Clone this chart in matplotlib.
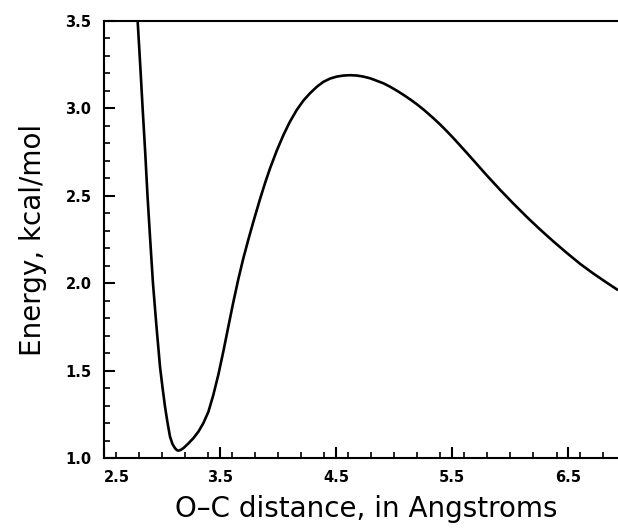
import numpy as np
import matplotlib.pyplot as plt
from matplotlib.ticker import MultipleLocator, FixedLocator

# O-C distance (Angstroms) and energy (kcal/mol)
distance = [2.775, 2.790, 2.812, 2.833, 2.855, 2.875, 2.898, 2.922, 2.950, 2.983,
            3.005, 3.026, 3.048, 3.069, 3.090, 3.112, 3.128, 3.141, 3.160, 3.184,
            3.225, 3.270, 3.315, 3.356, 3.400, 3.442, 3.486, 3.529, 3.572, 3.615,
            3.658, 3.700, 3.745, 3.787, 3.845, 3.890, 3.931, 3.990, 4.046, 4.100,
            4.161, 4.220, 4.276, 4.335, 4.391, 4.450, 4.506, 4.565, 4.621, 4.680,
            4.735, 4.795, 4.851, 4.910, 4.966, 5.025, 5.080, 5.140, 5.196, 5.260,
            5.339, 5.400, 5.454, 5.510, 5.569, 5.625, 5.684, 5.740, 5.799, 5.914,
            6.029, 6.144, 6.259, 6.373, 6.489, 6.603, 6.718, 6.833, 6.931]
energy = [3.650, 3.500, 3.250, 3.000, 2.750, 2.500, 2.250, 2.000, 1.770, 1.520,
          1.400, 1.293, 1.200, 1.122, 1.080, 1.056, 1.045, 1.042, 1.046, 1.056,
          1.082, 1.113, 1.152, 1.199, 1.265, 1.360, 1.478, 1.611, 1.753, 1.893,
          2.024, 2.140, 2.252, 2.351, 2.482, 2.577, 2.657, 2.760, 2.847, 2.921,
          2.991, 3.046, 3.087, 3.124, 3.152, 3.171, 3.182, 3.188, 3.190, 3.188,
          3.182, 3.172, 3.158, 3.143, 3.124, 3.101, 3.078, 3.051, 3.024, 2.990,
          2.944, 2.906, 2.870, 2.831, 2.788, 2.747, 2.703, 2.661, 2.617, 2.534,
          2.455, 2.379, 2.307, 2.239, 2.173, 2.111, 2.055, 2.003, 1.960]

x_ticks = [2.5, 3.5, 4.5, 5.5, 6.5]
y_ticks = [1.0, 1.5, 2.0, 2.5, 3.0, 3.5]

fig = plt.figure(figsize=(6.18, 5.29), dpi=100)
ax = fig.add_axes([104 / 618, 1 - 458 / 529, 1 - 104 / 618, 437 / 529])

ax.plot(distance, energy, color="black", lw=1.9, solid_capstyle="butt")

ax.set_xlim(2.5, 6.93)
ax.set_ylim(1.0, 3.5)
ax.xaxis.set_major_locator(FixedLocator(x_ticks))
ax.xaxis.set_minor_locator(MultipleLocator(0.2))
ax.yaxis.set_major_locator(FixedLocator(y_ticks))
ax.yaxis.set_minor_locator(MultipleLocator(0.1))
ax.set_xticklabels([f"{v:.1f}" for v in x_ticks], fontsize=10.5, fontweight="bold")
ax.set_yticklabels([f"{v:.1f}" for v in y_ticks], fontsize=10.5, fontweight="bold")

ax.spines["right"].set_visible(False)
for s in ["left", "bottom", "top"]:
    ax.spines[s].set_linewidth(1.5)

ax.tick_params(which="major", direction="in", length=8, width=1.5,
               pad=9, top=False, right=False)
ax.tick_params(which="minor", direction="in", length=4.5, width=1.2,
               top=False, right=False)
ax.get_xticklabels()[0].set_horizontalalignment("left")

ax.set_xlabel("O\u2013C distance, in Angstroms", fontsize=20)
ax.set_ylabel("Energy, kcal/mol", fontsize=20)
ax.xaxis.set_label_coords(0.51, -0.085)
ax.yaxis.set_label_coords(-0.11, 0.5)

fig.savefig("out.png", dpi=100)
